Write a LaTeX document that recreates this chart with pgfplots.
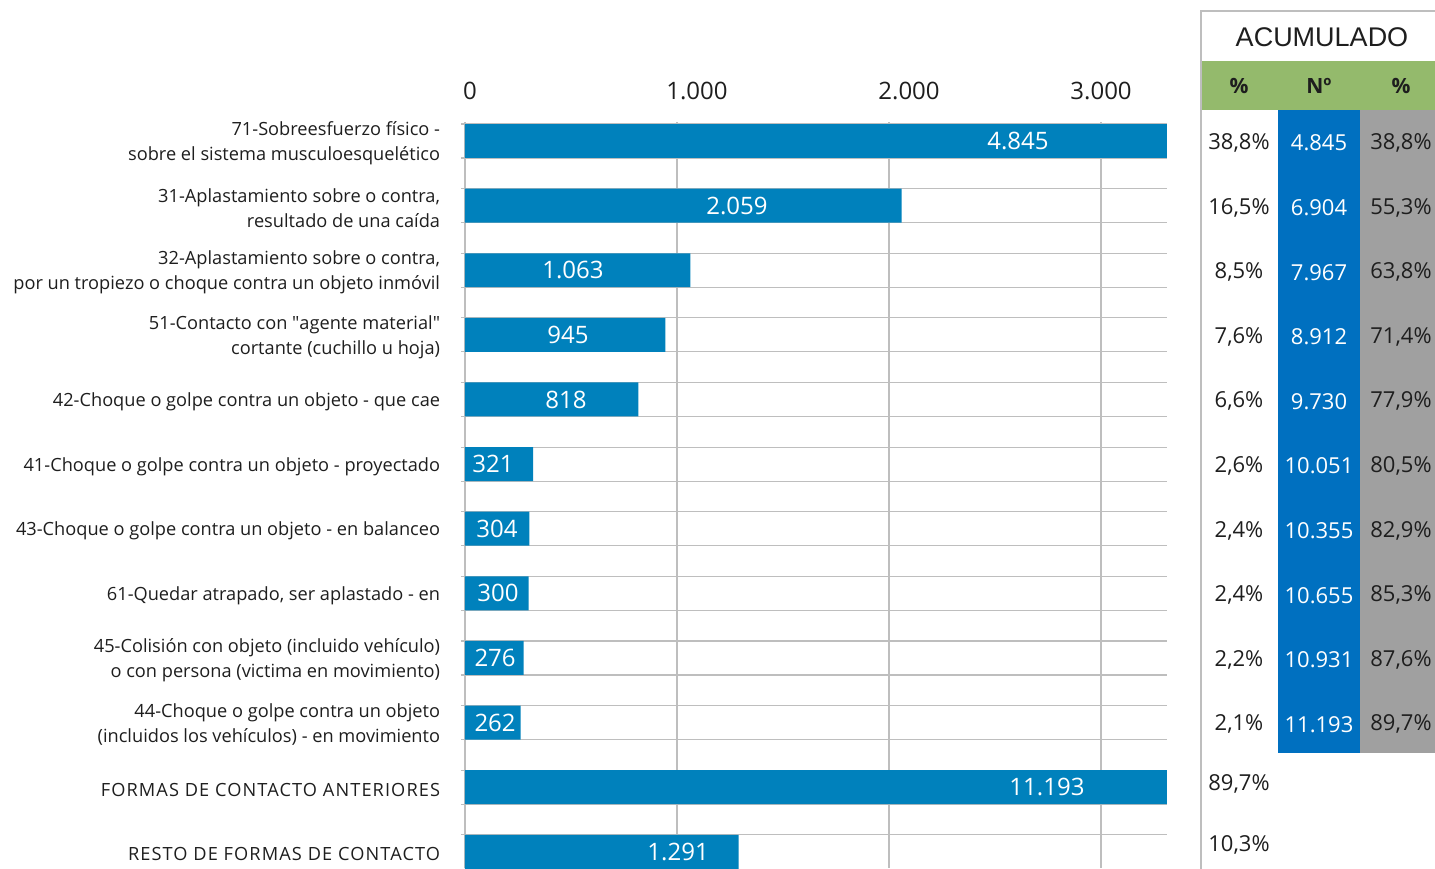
\documentclass[border=0pt]{standalone}
\usepackage{pgfplots}
\pgfplotsset{compat=1.18}
\usepackage{pgfplotstable}
\usepackage{fontspec}
\setmainfont{Open Sans}
\newfontfamily\headfont{Liberation Sans}
\newcommand{\caps}[1]{{\addfontfeature{LetterSpace=6}#1}}

\definecolor{barblue}{RGB}{0,129,188}
\definecolor{colblue}{RGB}{0,112,192}
\definecolor{colgray}{RGB}{160,160,160}
\definecolor{hdrgreen}{RGB}{148,186,108}
\definecolor{gridgray}{RGB}{190,190,190}
\definecolor{txt}{RGB}{30,30,30}

% bars: row index and value
\pgfplotstableread{
y val
0 4845
1 2059
2 1063
3 945
4 818
5 321
6 304
7 300
8 276
9 262
10 11193
11 1291
}\barsdata

% value labels inside the bars
\pgfplotstableread{
x y lab
2608 0 4.845
1283 1 2.059
509 2 1.063
486 3 945
476 4 818
132 5 321
151 6 304
156 7 300
142 8 276
142 9 262
2745 10 11.193
1005 11 1.291
}\labdata

\begin{document}
\begin{tikzpicture}
\begin{axis}[
    scale only axis,
    width=351pt, height=373pt,
    xmin=0, xmax=3311,
    ymin=-0.294, ymax=11.25,
    y dir=reverse,
    axis line style={draw=none},
    xtick={0,1000,2000,3000},
    xticklabels={\hspace*{5pt}0,\hspace*{20pt}1.000,\hspace*{20pt}2.000,3.000},
    xticklabel pos=upper,
    xtick style={draw=none},
    xmajorgrids,
    grid style={gridgray, line width=0.6pt},
    xticklabel style={font=\fontsize{12}{14}\selectfont, text=txt, yshift=3.5pt},
    ytick={0,...,11},
    ytick pos=left,
    major y tick style={draw=none},
    minor ytick={-0.263,0.263,0.737,1.263,1.737,2.263,2.737,3.263,3.737,4.263,4.737,5.263,5.737,6.263,6.737,7.263,7.737,8.263,8.737,9.263,9.737,10.263,10.737,11.263},
    yminorgrids,
    minor y grid style={gridgray, line width=0.6pt},
    minor y tick style={gridgray, line width=0.6pt},
    minor tick length=2pt,
    tick align=outside,
    yticklabels={
        {71-Sobreesfuerzo físico -\\sobre el sistema musculoesquelético},
        {31-Aplastamiento sobre o contra,\\resultado de una caída},
        {32-Aplastamiento sobre o contra,\\por un tropiezo o choque contra un objeto inmóvil},
        {51-Contacto con \textquotedbl agente material\textquotedbl\\cortante (cuchillo u hoja)},
        {42-Choque o golpe contra un objeto - que cae},
        {41-Choque o golpe contra un objeto - proyectado},
        {43-Choque o golpe contra un objeto - en balanceo},
        {61-Quedar atrapado, ser aplastado - en},
        {45-Colisión con objeto (incluido vehículo)\\o con persona (victima en movimiento)},
        {44-Choque o golpe contra un objeto\\(incluidos los vehículos) - en movimiento},
        {\caps{FORMAS DE CONTACTO ANTERIORES}},
        {\caps{RESTO DE FORMAS DE CONTACTO}}},
    yticklabel style={align=right, text=txt,
        font=\fontsize{9.1}{12.5}\selectfont, inner sep=0pt, xshift=-8pt, yshift=-1.2pt},
]
\addplot[xbar, bar shift=0pt, bar width=0.526, fill=barblue, draw=none]
    table[x=val, y=y] {\barsdata};
\addplot[draw=none, mark=none, point meta=explicit symbolic,
    nodes near coords={\pgfplotspointmeta},
    every node near coord/.append style={anchor=center, text=white,
        font=\fontsize{12}{14}\selectfont, inner sep=0pt}]
    table[x=x, y=y, meta=lab] {\labdata};
\end{axis}

% cumulative table on the right (image pixel coordinates)
\begin{scope}[x=0.5pt, y=-0.5pt, shift={(-232.5pt,434pt)}]
  \fill[hdrgreen] (1201,61) rectangle (1440,110);
  \fill[colblue] (1278,110) rectangle (1360,753);
  \fill[colgray] (1360,110) rectangle (1440,753);
  \draw[gridgray, line width=1pt] (1201,870) -- (1201,11) -- (1440,11);
  \node[text=txt, font=\headfont\fontsize{13.5}{15}\selectfont] at (1322,37) {ACUMULADO};
  \node[text=txt, font=\bfseries\fontsize{10.5}{12}\selectfont] at (1239,86) {\%};
  \node[text=txt, font=\bfseries\fontsize{10.5}{12}\selectfont] at (1319,86) {Nº};
  \node[text=txt, font=\bfseries\fontsize{10.5}{12}\selectfont] at (1401,86) {\%};
  \foreach \i/\a/\b/\c in {
      0/{38,8\%}/{4.845}/{38,8\%},
      1/{16,5\%}/{6.904}/{55,3\%},
      2/{8,5\%}/{7.967}/{63,8\%},
      3/{7,6\%}/{8.912}/{71,4\%},
      4/{6,6\%}/{9.730}/{77,9\%},
      5/{2,6\%}/{10.051}/{80,5\%},
      6/{2,4\%}/{10.355}/{82,9\%},
      7/{2,4\%}/{10.655}/{85,3\%},
      8/{2,2\%}/{10.931}/{87,6\%},
      9/{2,1\%}/{11.193}/{89,7\%}} {
    \pgfmathsetmacro{\yy}{143+64.6*\i}
    \node[text=txt, font=\fontsize{11}{13}\selectfont] at (1239,\yy) {\a};
    \node[text=white, font=\fontsize{11}{13}\selectfont] at (1319,\yy) {\b};
    \node[text=txt, font=\fontsize{11}{13}\selectfont] at (1401,\yy) {\c};
  }
  \node[text=txt, font=\fontsize{11}{13}\selectfont] at (1239,784) {89,7\%};
  \node[text=txt, font=\fontsize{11}{13}\selectfont] at (1239,845) {10,3\%};
\end{scope}

\pgfresetboundingbox
\useasboundingbox (-232.5pt,0pt) rectangle (485pt,434pt);
\end{tikzpicture}
\end{document}
